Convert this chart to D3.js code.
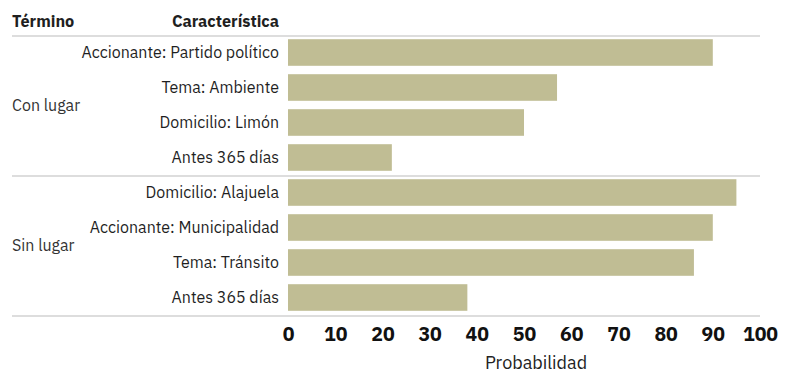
<!DOCTYPE html>
<html>
<head>
<meta charset="utf-8">
<script src="https://cdn.jsdelivr.net/npm/d3@7"></script>
<style>
  html, body { margin: 0; padding: 0; background: #ffffff; }
  svg { display: block; }
  text { font-family: "IBM Plex Sans", Roboto, "Noto Sans", sans-serif; }
</style>
</head>
<body>
<svg id="chart" width="792" height="373"></svg>
<script>
// Probabilidad por característica, agrupada por término de la resolución
const groups = ["Con lugar", "Sin lugar"];
const groupOf = ["Con lugar", "Con lugar", "Con lugar", "Con lugar",
                 "Sin lugar", "Sin lugar", "Sin lugar", "Sin lugar"];
const features = ["Accionante: Partido político", "Tema: Ambiente", "Domicilio: Limón", "Antes 365 días",
                  "Domicilio: Alajuela", "Accionante: Municipalidad", "Tema: Tránsito", "Antes 365 días"];
const values = [90, 57, 50, 22, 95, 90, 86, 38];
const xTicks = [0, 10, 20, 30, 40, 50, 60, 70, 80, 90, 100];

const rows = features.map((f, i) => ({ id: i, group: groupOf[i], feature: f, value: values[i] }));

const svg = d3.select("#chart");
const marginLeft = 12, plotLeft = 288, plotRight = 760;
const plotTop = 35, plotBottom = 315;

const x = d3.scaleLinear().domain([0, 100]).range([plotLeft, plotRight]);
const y = d3.scaleBand()
  .domain(rows.map(d => d.id))
  .range([plotTop, plotBottom])
  .paddingInner(0.24)
  .paddingOuter(0.12);

const ink = "#1f1f1f";
const barColor = "#c0bd94";
const rule = "#dddddd";

// Column headers
svg.append("text")
  .attr("x", marginLeft).attr("y", 27)
  .attr("font-size", 16.3).attr("font-weight", 700).attr("fill", ink)
  .text("Término");
svg.append("text")
  .attr("x", plotLeft - 9).attr("y", 27)
  .attr("text-anchor", "end")
  .attr("font-size", 16.3).attr("font-weight", 700).attr("fill", ink)
  .text("Característica");

// Bars
svg.append("g").selectAll("rect")
  .data(rows)
  .join("rect")
  .attr("x", x(0))
  .attr("y", d => y(d.id))
  .attr("width", d => x(d.value) - x(0))
  .attr("height", y.bandwidth())
  .attr("fill", barColor);

// Feature labels
svg.append("g").selectAll("text")
  .data(rows)
  .join("text")
  .attr("x", plotLeft - 9)
  .attr("y", d => y(d.id) + y.bandwidth() / 2)
  .attr("dy", "0.35em")
  .attr("text-anchor", "end")
  .attr("font-size", 16)
  .attr("fill", ink)
  .text(d => d.feature);

// Group separators and group labels
const step = y.step();
const groupSpans = groups.map(g => {
  const ids = rows.filter(r => r.group === g).map(r => r.id);
  const y0 = y(ids[0]) - y.paddingOuter() * step;
  const y1 = y(ids[ids.length - 1]) + y.bandwidth() + y.paddingOuter() * step;
  return { group: g, y0, y1 };
});

const lineYs = [groupSpans[0].y0].concat(groupSpans.map(s => s.y1));
svg.append("g").selectAll("line")
  .data(lineYs)
  .join("line")
  .attr("x1", marginLeft).attr("x2", plotRight)
  .attr("y1", d => d + 1).attr("y2", d => d + 1)
  .attr("stroke", rule).attr("stroke-width", 2);

svg.append("g").selectAll("text")
  .data(groupSpans)
  .join("text")
  .attr("x", marginLeft)
  .attr("y", d => (d.y0 + d.y1) / 2)
  .attr("dy", "0.35em")
  .attr("font-size", 16)
  .attr("fill", "#333333")
  .text(d => d.group);

// X axis
const axis = svg.append("g")
  .attr("transform", `translate(0,${plotBottom + 12})`)
  .call(d3.axisBottom(x).tickValues(xTicks).tickSize(0).tickPadding(0).tickFormat(d3.format("d")));
axis.select(".domain").remove();
axis.selectAll("text")
  .attr("font-family", "Roboto, sans-serif")
  .attr("font-size", 19.5)
  .attr("font-weight", 700)
  .attr("fill", "#111111");

svg.append("text")
  .attr("x", (plotLeft + plotRight) / 2 + 12)
  .attr("y", 369)
  .attr("text-anchor", "middle")
  .attr("font-size", 18)
  .attr("fill", "#222222")
  .text("Probabilidad");
</script>
</body>
</html>
